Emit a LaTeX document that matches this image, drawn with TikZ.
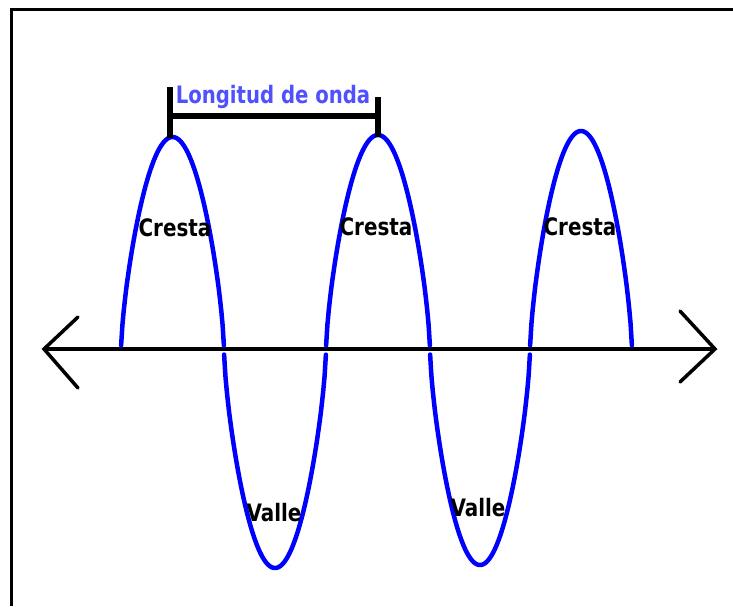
\documentclass[tikz,border=0pt]{standalone}
\usepackage{fontspec}
\setmainfont{DejaVu Sans}
\begin{document}
\begin{tikzpicture}[x=1pt,y=-1pt,
  frameline/.style={line width=3pt,black},
  axisline/.style={line width=4pt,black},
  arrowarm/.style={line width=3.5pt,black,line cap=round},
  wave/.style={line width=4.5pt,blue,line cap=round,line join=round},
  bracket/.style={line width=5.5pt,black},
  lbl/.style={font=\fontsize{24}{24}\selectfont\bfseries,inner sep=0pt,xscale=0.83},
  title/.style={font=\fontsize{24}{24}\selectfont\bfseries,inner sep=0pt,xscale=0.82,text={rgb,255:red,80;green,80;blue,255}}]
\useasboundingbox (0,0) rectangle (733,606);
\fill[white] (0,0) rectangle (733,606);
% frame
\draw[frameline] (11,606) -- (11,9) -- (733,9);
% axis
\coordinate (L) at (44,349);
\coordinate (R) at (715,349);
\draw[axisline] (L) -- (R);
\draw[arrowarm] (78,317) -- (L) -- (78,388);
\draw[arrowarm] (680,311) -- (R) -- (680,382);
% wave
\draw[wave] plot[domain=0.2:179.8,samples=80,variable=\t] ({121+\t/180*103},{350-213*pow(max(sin(\t),0.001),0.68)});
\draw[wave] plot[domain=0.2:179.8,samples=80,variable=\t] ({224+\t/180*102},{350+218*pow(max(sin(\t),0.001),0.68)});
\draw[wave] plot[domain=0.2:179.8,samples=80,variable=\t] ({326+\t/180*104},{350-215*pow(max(sin(\t),0.001),0.68)});
\draw[wave] plot[domain=0.2:179.8,samples=80,variable=\t] ({430+\t/180*100},{350+215*pow(max(sin(\t),0.001),0.68)});
\draw[wave] plot[domain=0.2:179.8,samples=80,variable=\t] ({530+\t/180*102},{350-219*pow(max(sin(\t),0.001),0.68)});
% bracket
\coordinate (b1t) at (170,87);
\coordinate (b1b) at (170,138);
\coordinate (b2t) at (378,97);
\coordinate (b2b) at (378,137);
\coordinate (bm1) at (170,116);
\coordinate (bm2) at (378,116);
\draw[bracket] (b1t) -- (b1b);
\draw[bracket] (b2t) -- (b2b);
\draw[bracket] (bm1) -- (bm2);
\node[title] (wl) at (273,97) {Longitud de onda};
% labels
\node[lbl] (c1) at (175,228) {Cresta};
\node[lbl] (c2) at (376,227) {Cresta};
\node[lbl] (c3) at (580,227) {Cresta};
\node[lbl] (v1) at (274,513) {Valle};
\node[lbl] (v2) at (478,508) {Valle};
\end{tikzpicture}
\end{document}
